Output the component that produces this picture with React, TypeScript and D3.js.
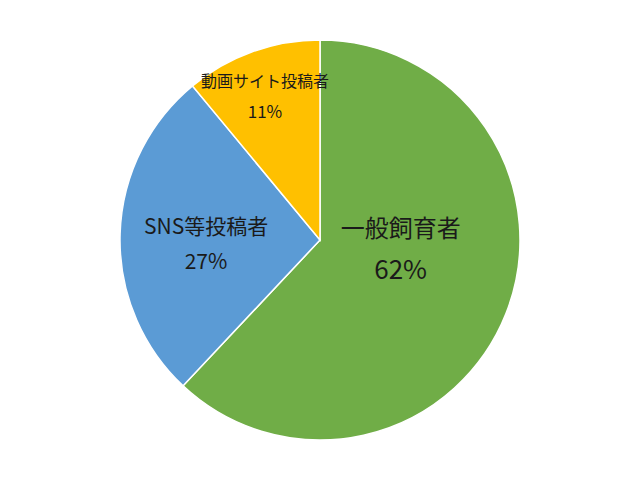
import { useEffect } from 'react';
import * as d3 from 'd3';

// slice data, clockwise from 12 o'clock
const categories = ['一般飼育者', 'SNS等投稿者', '動画サイト投稿者'];
const shares = [62, 27, 11];
const colors = ['#70AD47', '#5B9BD5', '#FFC000'];

// label layout (Excel "best fit" places them a bit off the centroid)
const labelRadius = [81, 114, 155];
const labelAngleShift = [-16.3, -3.3, -1];
const labelFont = [24, 21, 16];
const pctFont = [26, 21, 17];
const labelGap = [41, 35, 30];

const W = 640;
const H = 480;
const cx = 320;
const cy = 240;
const R = 200;

export default function App(): JSX.Element {
  useEffect(() => {
    document.body.style.margin = '0';
  }, []);

  const pie = d3.pie<number>().sort(null).startAngle(0).endAngle(2 * Math.PI);
  const arcs = pie(shares);
  const arc = d3.arc<d3.PieArcDatum<number>>().innerRadius(0).outerRadius(R);

  return (
    <svg width={W} height={H} style={{ display: 'block', background: '#fff' }}>
      <g transform={`translate(${cx},${cy})`}>
        {arcs.map((a, i) => (
          <path
            key={categories[i]}
            d={arc(a) || ''}
            fill={colors[i]}
            stroke="#fff"
            strokeWidth={1.5}
          />
        ))}
        {arcs.map((a, i) => {
          const mid = (a.startAngle + a.endAngle) / 2 + (labelAngleShift[i] * Math.PI) / 180;
          const x = labelRadius[i] * Math.sin(mid);
          const y = -labelRadius[i] * Math.cos(mid);
          return (
            <g
              key={'l' + i}
              transform={`translate(${x},${y})`}
              fontFamily="'Noto Sans CJK JP', 'Noto Sans', sans-serif"
              fill="#1a1a1a"
              textAnchor="middle"
            >
              <text y={-labelGap[i] / 2} dominantBaseline="central" fontSize={labelFont[i]}>
                {categories[i]}
              </text>
              <text y={labelGap[i] / 2} dominantBaseline="central" fontSize={pctFont[i]}>
                {shares[i] + '%'}
              </text>
            </g>
          );
        })}
      </g>
    </svg>
  );
}
